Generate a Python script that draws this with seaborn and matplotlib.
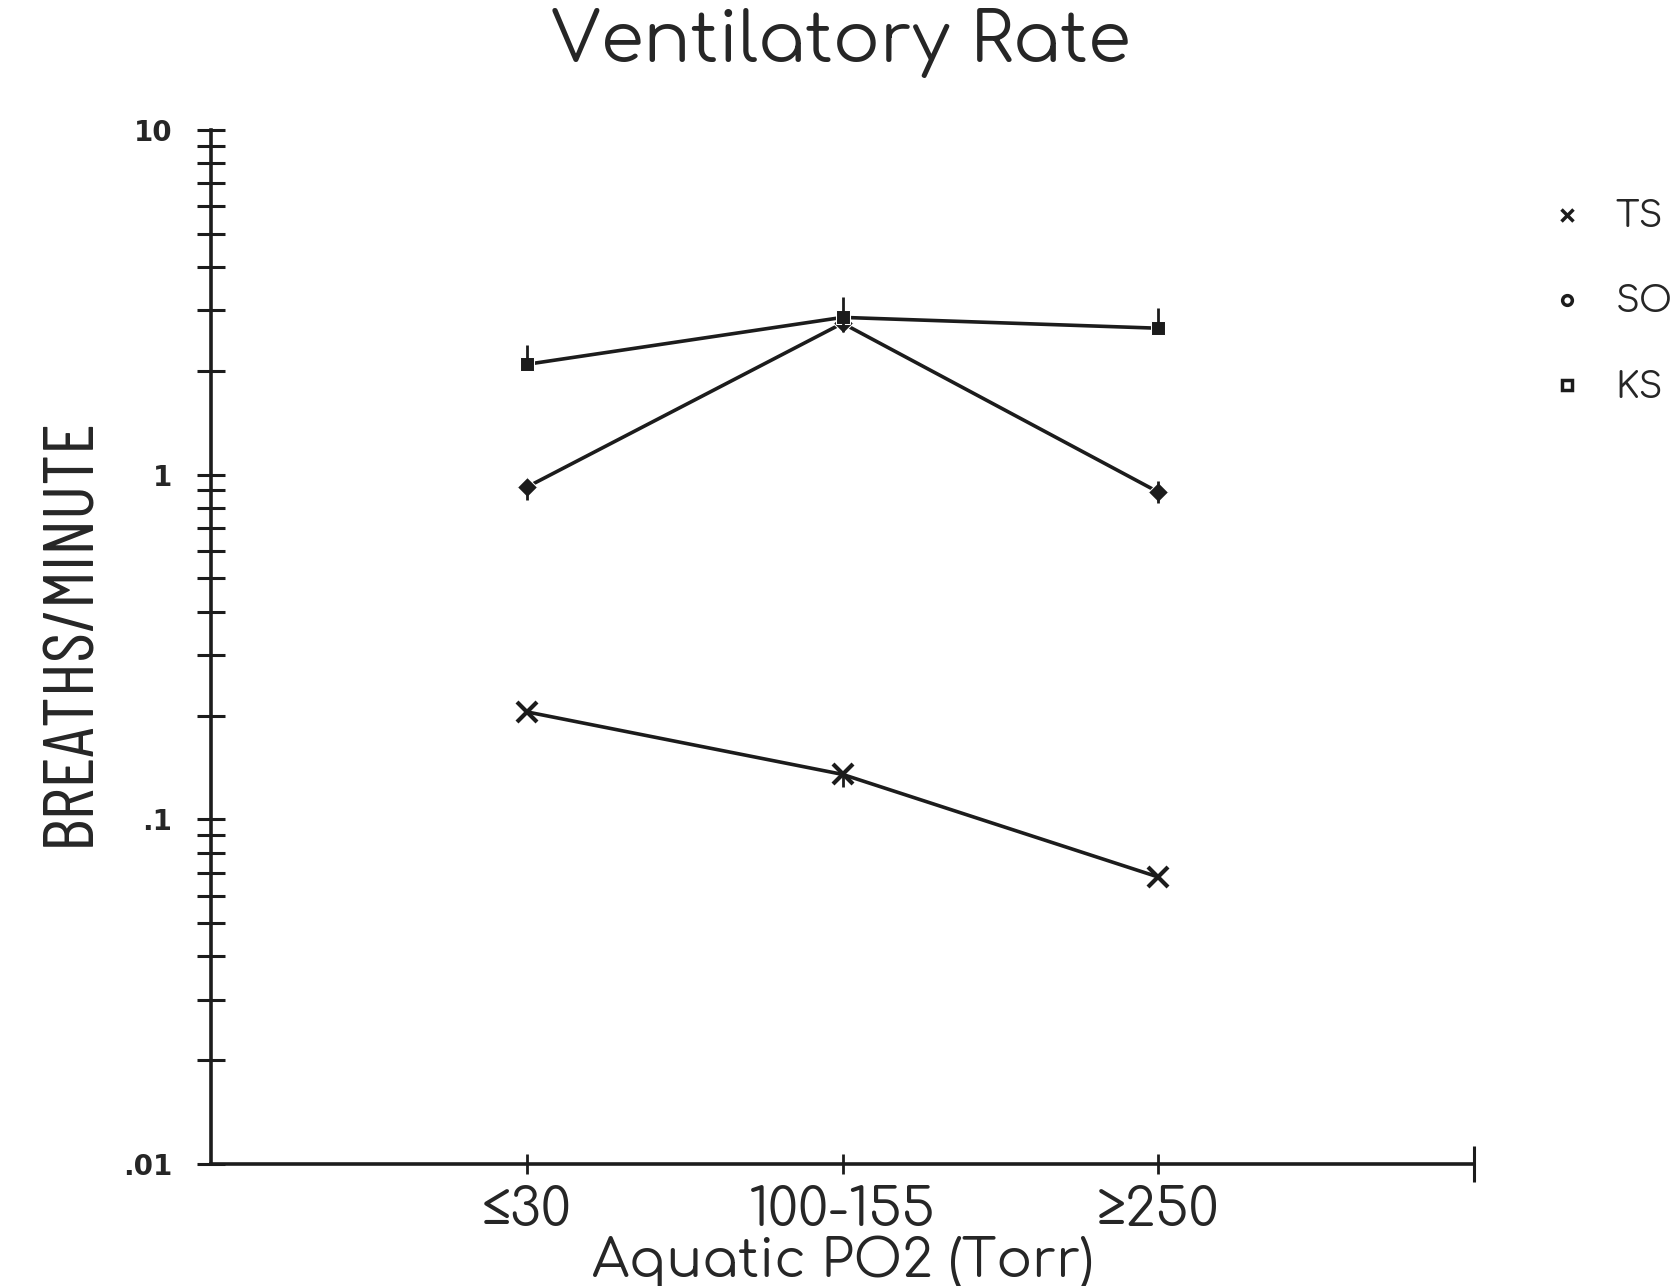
import numpy as np
import pandas as pd
import seaborn as sns
import matplotlib
matplotlib.use("Agg")
import matplotlib.pyplot as plt
from matplotlib.lines import Line2D

# Oxygen levels (Torr) and breathing rates per species
categories = ["≤30", "100-155", "≥250"]
ts_rate = [0.205, 0.135, 0.068]
so_rate = [0.92, 2.75, 0.89]
ks_rate = [2.09, 2.86, 2.66]

# Error whiskers (lower, upper) per species
ts_err_lo = [0.0, 0.011, 0.0]
ts_err_hi = [0.0, 0.0, 0.0]
so_err_lo = [0.075, 0.15, 0.06]
so_err_hi = [0.0, 0.0, 0.07]
ks_err_lo = [0.0, 0.0, 0.0]
ks_err_hi = [0.29, 0.41, 0.38]

species = ["TS", "SO", "KS"]
y_ticks = [0.01, 0.1, 1, 10]
y_tick_labels = [".01", ".1", "1", "10"]

sns.set_style("white")
plt.rcParams["font.family"] = ["Comfortaa", "DejaVu Sans"]

rows = []
for sp, vals in zip(species, [ts_rate, so_rate, ks_rate]):
    for i, v in enumerate(vals):
        rows.append({"species": sp, "pos": i + 1, "rate": v})
df = pd.DataFrame(rows)

fig = plt.figure(figsize=(16.77, 12.86), dpi=100)
ax = fig.add_axes([0.1258, 0.0949, 0.7532, 0.804])

ink = "#1c1c1c"
sns.lineplot(data=df, x="pos", y="rate", hue="species", style="species",
             palette={s: ink for s in species},
             markers={"TS": "X", "SO": "D", "KS": "s"},
             dashes={s: "" for s in species},
             markersize=10, linewidth=2.6, errorbar=None, legend=False, ax=ax)
# TS is drawn with a thin cross rather than the filled X
for ln in ax.lines:
    if ln.get_marker() == "X":
        ln.set_marker("x")
        ln.set_markersize(14)
        ln.set_markeredgewidth(3.0)
        ln.set_markeredgecolor(ink)

pos = np.arange(1, len(categories) + 1)
for vals, lo, hi in [(ts_rate, ts_err_lo, ts_err_hi),
                     (so_rate, so_err_lo, so_err_hi),
                     (ks_rate, ks_err_lo, ks_err_hi)]:
    ax.errorbar(pos, vals, yerr=[lo, hi], fmt="none", ecolor=ink,
                elinewidth=2.0, capsize=0)

ax.set_yscale("log")
ax.set_ylim(0.01, 10)
ax.set_xlim(0, 4)

ax.set_yticks(y_ticks)
ax.set_yticklabels(y_tick_labels, fontsize=20, fontweight="bold", family="DejaVu Sans")
ax.yaxis.set_minor_locator(matplotlib.ticker.LogLocator(base=10, subs=np.arange(2, 10)))
ax.yaxis.set_minor_formatter(matplotlib.ticker.NullFormatter())
ax.tick_params(axis="y", which="both", direction="inout", length=20, width=2.2,
               color=ink, left=True, pad=18)

ax.set_xticks(pos)
ax.set_xticklabels(categories, fontsize=38)
ax.set_xticks([4], minor=True)
ax.tick_params(axis="x", which="major", direction="inout", length=14, width=2.0,
               color=ink, bottom=True, pad=8)
ax.tick_params(axis="x", which="minor", direction="inout", length=26, width=2.2,
               color=ink, bottom=True)

for side in ["top", "right"]:
    ax.spines[side].set_visible(False)
for side in ["left", "bottom"]:
    ax.spines[side].set_color(ink)
    ax.spines[side].set_linewidth(2.6)

ax.set_xlabel("Aquatic PO2 (Torr)", fontsize=38, va="center")
ax.xaxis.set_label_coords(0.5, -0.095)
ax.set_ylabel("BREATHS/MINUTE", fontsize=52,
              family=["Barlow Condensed", "Roboto Condensed", "DejaVu Sans"])
ax.yaxis.set_label_coords(-0.0855, 0.515)

fig.text(0.5013, 0.9666, "Ventilatory Rate", fontsize=50, ha="center", va="center")

handles = [
    Line2D([], [], linestyle="none", marker="x", markersize=8, mew=2.5, color=ink),
    Line2D([], [], linestyle="none", marker="o", markersize=7, mew=2.5,
           markerfacecolor="white", color=ink),
    Line2D([], [], linestyle="none", marker="s", markersize=7, mew=2.5,
           markerfacecolor="white", color=ink),
]
leg = ax.legend(handles, species, loc="upper left", bbox_to_anchor=(0.9127, 0.859),
                bbox_transform=fig.transFigure, frameon=False,
                prop={"family": ["Comfortaa", "DejaVu Sans"], "size": 26, "weight": "bold"},
                handlelength=1.0, handletextpad=0.85, labelspacing=1.36, borderpad=0)

fig.savefig("out.png", dpi=100, facecolor="white")
